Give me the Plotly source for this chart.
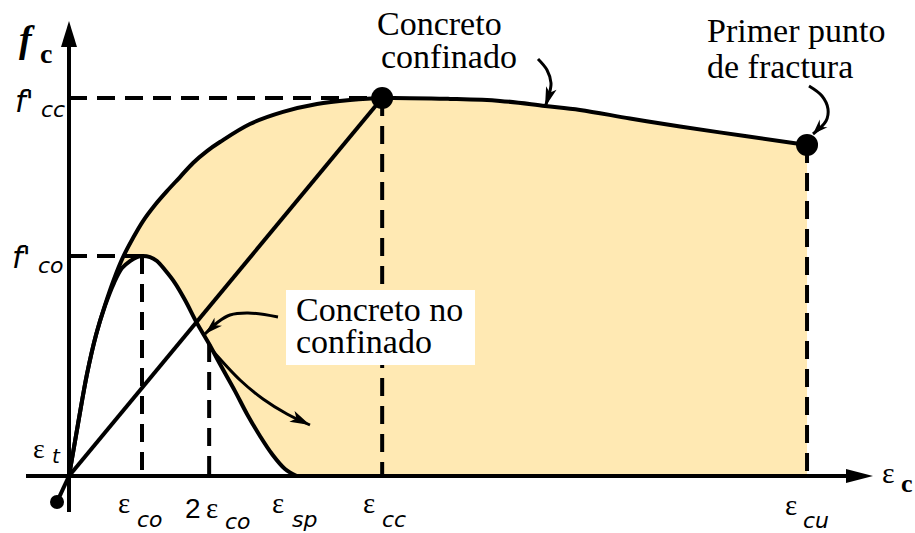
import plotly.graph_objects as go
import math

# strain normalised by eps_co, stress normalised by f'co
eps_co = 1.0
eps_2co = 1.92
eps_sp = 3.12
eps_cc = 4.29
eps_cu = 10.11
f_co = 1.0
f_cc = 1.718
f_cu = 1.505
f_2co = 0.60
eps_t = -0.164
f_t = -0.118

# confined concrete curve
conf_eps = [0, 0.123, 0.247, 0.370, 0.493, 0.616, 0.740, 0.877, 1.014, 1.178, 1.342,
            1.521, 1.699, 1.890, 2.068, 2.479, 2.932, 3.397, 3.849, 4.29, 5.219,
            5.904, 6.521, 7.0, 7.685, 8.370, 9.260, 10.11]
conf_f = [0, 0.236, 0.464, 0.641, 0.777, 0.895, 0.995, 1.082, 1.159, 1.232, 1.295,
          1.359, 1.423, 1.477, 1.518, 1.600, 1.655, 1.691, 1.709, 1.718, 1.714,
          1.705, 1.682, 1.664, 1.625, 1.589, 1.545, 1.505]

# unconfined concrete curve
unconf_eps = [0, 0.123, 0.247, 0.370, 0.493, 0.616, 0.726, 0.836, 0.932, 1.0, 1.110,
              1.205, 1.315, 1.452, 1.589, 1.753, 1.92, 2.068, 2.274, 2.438, 2.616,
              2.781, 2.959, 3.12]
unconf_f = [0, 0.236, 0.464, 0.641, 0.773, 0.877, 0.945, 0.977, 0.995, 1.0, 0.995,
            0.977, 0.936, 0.877, 0.800, 0.695, 0.60, 0.509, 0.386, 0.282, 0.182,
            0.100, 0.032, 0]

W, H = 915, 533
OX, OY = 69, 476          # origin in pixels
SX, SY = 73, 220          # pixels per unit

def X(px):
    return (px - OX) / SX

def Y(py):
    return (OY - py) / SY

SERIF = "Liberation Serif"
SANS = "DejaVu Sans"
EPS = "Liberation Serif"
FILL = "#FFE9B3"
DASH = "18px,10px"

fig = go.Figure()

# shaded area between the two curves
poly_x = conf_eps + [eps_cu] + unconf_eps[::-1]
poly_y = conf_f + [0] + unconf_f[::-1]
fig.add_trace(go.Scatter(x=poly_x, y=poly_y, fill="toself", fillcolor=FILL,
                         line=dict(width=0), mode="lines", hoverinfo="skip"))

# dashed guides
def dashed(xs, ys):
    fig.add_trace(go.Scatter(x=xs, y=ys, mode="lines",
                             line=dict(color="black", width=4, dash=DASH)))

dashed([0, eps_cc], [f_cc, f_cc])
dashed([0, eps_co], [f_co, f_co])
dashed([eps_co, eps_co], [f_co, 0])
dashed([eps_2co, eps_2co], [f_2co, 0])
dashed([eps_cc, eps_cc], [f_cc, 0])
dashed([eps_cu, eps_cu], [f_cu, 0])

# secant line and tension branch
fig.add_trace(go.Scatter(x=[0, eps_cc], y=[0, f_cc], mode="lines",
                         line=dict(color="black", width=4)))
fig.add_trace(go.Scatter(x=[eps_t, 0], y=[f_t, 0], mode="lines",
                         line=dict(color="black", width=4)))

# curves
fig.add_trace(go.Scatter(x=unconf_eps, y=unconf_f, mode="lines",
                         line=dict(color="black", width=4, shape="spline", smoothing=1)))
fig.add_trace(go.Scatter(x=conf_eps, y=conf_f, mode="lines",
                         line=dict(color="black", width=4, shape="spline", smoothing=1)))

# axes
fig.add_shape(type="line", x0=0, x1=0, y0=Y(512), y1=Y(45),
              line=dict(color="black", width=4))
fig.add_shape(type="line", x0=X(26), x1=X(848), y0=0, y1=0,
              line=dict(color="black", width=4))
fig.add_shape(type="path", fillcolor="black", line=dict(width=0), layer="above",
              path=f"M {X(61)},{Y(47)} L {X(77)},{Y(47)} L {X(69)},{Y(21)} Z")
fig.add_shape(type="path", fillcolor="black", line=dict(width=0), layer="above",
              path=f"M {X(846)},{Y(469)} L {X(846)},{Y(483)} L {X(873)},{Y(476)} Z")

# points
fig.add_trace(go.Scatter(x=[eps_cc, eps_cu], y=[f_cc, f_cu], mode="markers",
                         marker=dict(color="black", size=22)))
fig.add_trace(go.Scatter(x=[eps_t], y=[f_t], mode="markers",
                         marker=dict(color="black", size=14)))

# curved pointers with arrow heads
def pointer(pts, head_len, head_w, width=3):
    fig.add_trace(go.Scatter(x=[X(p[0]) for p in pts], y=[Y(p[1]) for p in pts],
                             mode="lines",
                             line=dict(color="black", width=width, shape="spline")))
    (x1, y1), (x2, y2) = pts[-2], pts[-1]
    d = math.hypot(x2 - x1, y2 - y1)
    ux, uy = (x2 - x1) / d, (y2 - y1) / d
    bx, by = x2 - ux * head_len, y2 - uy * head_len
    px_, py_ = -uy * head_w / 2, ux * head_w / 2
    fig.add_shape(type="path", fillcolor="black", line=dict(width=0), layer="above",
                  path=f"M {X(bx + px_)},{Y(by + py_)} L {X(x2)},{Y(y2)} "
                       f"L {X(bx - px_)},{Y(by - py_)} L {X(bx + ux * 5)},{Y(by + uy * 5)} Z")

pointer([(538, 59), (547, 70), (551, 83), (549, 95), (545, 107)], 20, 11)
pointer([(809, 86), (822, 96), (828, 109), (826, 121), (813, 134)], 15, 11)
pointer([(278, 317), (248, 313), (230, 315), (218, 322), (205, 334)], 18, 11)
pointer([(212, 350), (240, 380), (263, 399), (287, 414), (310, 425)], 20, 12)

# white box behind the unconfined label
fig.add_shape(type="rect", x0=X(286), x1=X(475), y0=Y(290), y1=Y(365),
              fillcolor="white", line=dict(width=0), layer="above")

def label(px, base, text, size, family=SANS):
    fig.add_annotation(x=X(px), y=Y(base - 0.34 * size), text=text, showarrow=False,
                       xanchor="left", yanchor="middle", borderpad=0,
                       font=dict(size=size, family=family, color="black"))

# axis titles
label(18, 52, "<b><i>f</i></b>", 38, SERIF)
label(39, 63, "<b>c</b>", 28, SERIF)
label(881, 483, "ε", 30, EPS)
label(900, 492, "<b>c</b>", 26, SERIF)

# stress labels
label(14, 112, "<i>f'</i>", 30)
label(40, 117, "<i>cc</i>", 22)
label(11, 268, "<i>f'</i>", 30)
label(37, 273, "<i>co</i>", 22)
label(32, 458, "ε", 28, EPS)
label(51, 463, "<i>t</i>", 20)

# strain labels
label(117, 513, "ε", 29, EPS)
label(136, 527, "<i>co</i>", 22)
label(184, 518, "2", 28, "Liberation Sans")
label(205, 518, "ε", 29, EPS)
label(224, 529, "<i>co</i>", 22)
label(271, 513, "ε", 29, EPS)
label(291, 527, "<i>sp</i>", 22)
label(362, 513, "ε", 29, EPS)
label(381, 527, "<i>cc</i>", 22)
label(784, 515, "ε", 29, EPS)
label(802, 528, "<i>cu</i>", 22)

# callouts
label(376, 35, "Concreto", 34, SERIF)
label(380, 68, "confinado", 34, SERIF)
label(706, 42, "Primer punto", 34, SERIF)
label(706, 78, "de fractura", 34, SERIF)
label(295, 321, "Concreto no", 34, SERIF)
label(295, 353, "confinado", 34, SERIF)

fig.update_layout(
    width=W, height=H, autosize=False,
    margin=dict(l=0, r=0, t=0, b=0),
    paper_bgcolor="white", plot_bgcolor="white",
    showlegend=False,
    xaxis=dict(range=[X(0), X(W)], visible=False, fixedrange=True),
    yaxis=dict(range=[Y(H), Y(0)], visible=False, fixedrange=True),
)

# drop the default page margin so the figure sits at the window corner
fig.write_html("out.html", config={"displayModeBar": False},
               post_script="document.body.style.margin='0';")
